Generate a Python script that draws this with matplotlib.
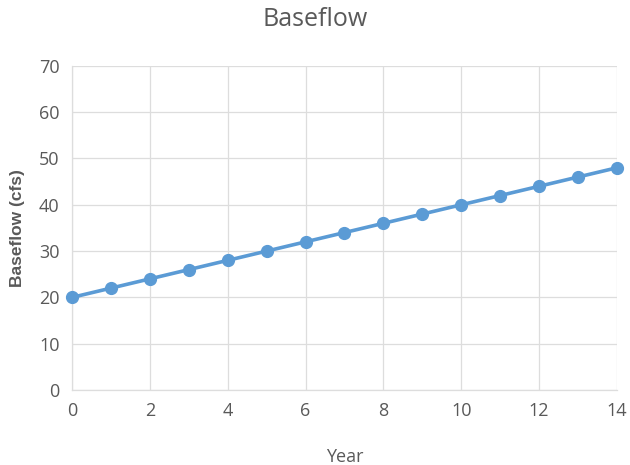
import matplotlib
matplotlib.use("Agg")
import matplotlib.pyplot as plt

years = list(range(0, 15))
baseflow = [20, 22, 24, 26, 28, 30, 32, 34, 36, 38, 40, 42, 44, 46, 48]
x_ticks = [0, 2, 4, 6, 8, 10, 12, 14]
y_ticks = [0, 10, 20, 30, 40, 50, 60, 70]

BLUE = "#5B9BD5"
GRID = "#DDDDDD"
TXT = "#595959"

fig = plt.figure(figsize=(6.3, 4.65), dpi=100)
ax = fig.add_axes([0.1143, 0.1613, 0.865, 0.697])

ax.plot(years, baseflow, color=BLUE, linewidth=2.6, marker="o",
        markersize=8.5, zorder=3, clip_on=False)

ax.set_xlim(0, 14)
ax.set_ylim(0, 70)
ax.set_xticks(x_ticks)
ax.set_yticks(y_ticks)
ax.grid(True, color=GRID, linewidth=0.9)
ax.set_axisbelow(True)
for side in ["top", "right"]:
    ax.spines[side].set_visible(False)
for side in ["left", "bottom"]:
    ax.spines[side].set_color(GRID)
    ax.spines[side].set_linewidth(0.9)
ax.tick_params(length=0, colors=TXT, labelsize=13, pad=9)
for lab in ax.get_xticklabels() + ax.get_yticklabels():
    lab.set_fontfamily("Open Sans")

ax.set_xlabel("Year", fontsize=13, color=TXT, family="Open Sans", labelpad=20)
ax.set_ylabel("Baseflow (cfs)", fontsize=12.5, color=TXT, fontweight="bold",
              family="Liberation Sans", labelpad=10)
fig.suptitle("Baseflow", x=0.5, y=0.985, fontsize=18, color=TXT, family="Open Sans")

fig.savefig("out.png", dpi=100)
